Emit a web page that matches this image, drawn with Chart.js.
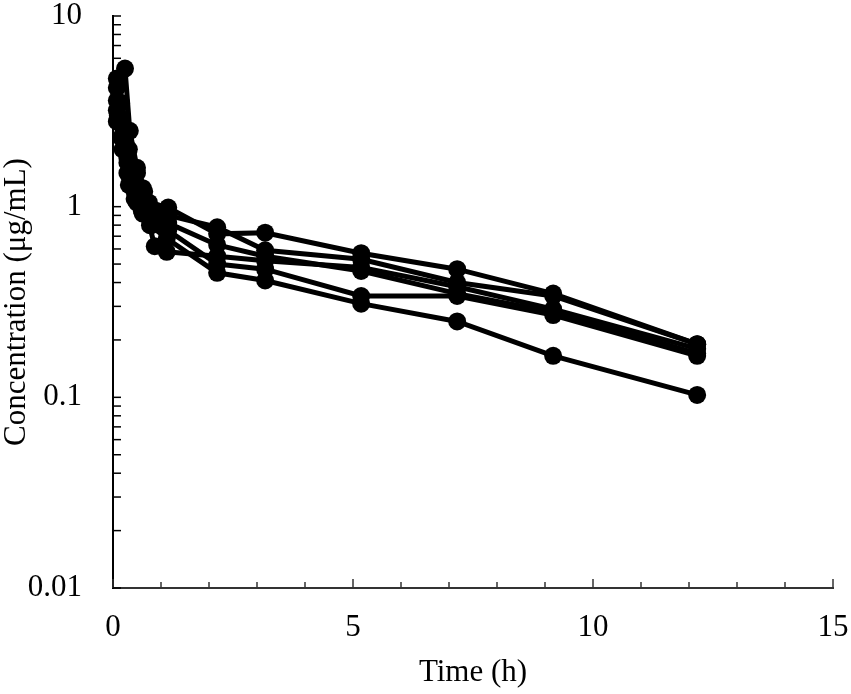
<!DOCTYPE html>
<html>
<head>
<meta charset="utf-8">
<script src="https://cdn.jsdelivr.net/npm/chart.js@4/dist/chart.umd.min.js"></script>
<style>
  html, body { margin: 0; padding: 0; background: #fff; }
  #wrap { width: 851px; height: 694px; }
</style>
</head>
<body>
<div id="wrap"><canvas id="c" width="851" height="694"></canvas></div>
<script>
// Time (h) and concentration (µg/mL) for each subject
const time1 = [0.08, 0.25, 0.35, 0.5, 0.62, 0.75, 1.15, 2.17, 3.17, 5.17, 7.17, 9.17, 12.17];
const conc1 = [4.7, 5.3, 2.5, 1.6, 1.25, 1.05, 0.99, 0.72, 0.73, 0.57, 0.47, 0.35, 0.19];
const time2 = [0.08, 0.17, 0.33, 0.5, 0.65, 0.9, 1.15, 2.17, 3.17, 5.17, 7.17, 9.17, 12.17];
const conc2 = [4.2, 3.5, 2.0, 1.5, 1.2, 0.95, 0.90, 0.78, 0.59, 0.53, 0.40, 0.34, 0.19];
const time3 = [0.08, 0.17, 0.3, 0.5, 0.62, 0.87, 1.12, 2.17, 3.17, 5.17, 7.17, 9.17, 12.17];
const conc3 = [3.6, 2.9, 1.8, 1.3, 1.1, 0.62, 0.58, 0.55, 0.52, 0.48, 0.38, 0.29, 0.18];
const time4 = [0.08, 0.17, 0.3, 0.45, 0.6, 0.8, 1.15, 2.17, 3.17, 5.17, 7.17, 9.17, 12.17];
const conc4 = [3.2, 2.7, 1.7, 1.2, 1.0, 0.88, 0.82, 0.63, 0.55, 0.46, 0.35, 0.28, 0.17];
const time5 = [0.08, 0.17, 0.3, 0.45, 0.6, 0.8, 1.15, 2.17, 3.17, 5.17, 7.17, 9.17, 12.17];
const conc5 = [2.8, 2.3, 1.5, 1.1, 0.95, 0.8, 0.75, 0.50, 0.47, 0.34, 0.34, 0.27, 0.165];
const time6 = [0.1, 0.2, 0.33, 0.5, 0.62, 0.77, 1.12, 2.17, 3.17, 5.17, 7.17, 9.17, 12.17];
const conc6 = [3.0, 2.0, 1.3, 1.05, 0.92, 0.80, 0.68, 0.45, 0.41, 0.31, 0.25, 0.165, 0.103];

const xTickLabels = [0, 5, 10, 15];
const yTickLabels = [0.01, 0.1, 1, 10];
const xTitle = 'Time (h)';
const yTitle = 'Concentration (μg/mL)';

const subjects = [[time1, conc1], [time2, conc2], [time3, conc3], [time4, conc4], [time5, conc5], [time6, conc6]];

const datasets = subjects.map(([t, c], i) => ({
  label: 'Subject ' + (i + 1),
  data: t.map((x, k) => ({ x: x, y: c[k] })),
  borderColor: '#000',
  backgroundColor: '#000',
  borderWidth: 5,
  pointRadius: 9,
  pointHoverRadius: 9,
  pointBorderWidth: 0,
  pointBackgroundColor: '#000',
  tension: 0,
  clip: false
}));

const FONT = 'Liberation Serif';
const FSIZE = 31;

const innerTicks = {
  id: 'innerTicks',
  afterDraw(chart) {
    const ctx = chart.ctx;
    const xs = chart.scales.x, ys = chart.scales.y;
    ctx.save();
    ctx.strokeStyle = '#333';
    ctx.lineWidth = 1.5;
    for (let v = 0; v <= 15; v++) {
      const px = xs.getPixelForValue(v);
      const len = (v % 5 === 0) ? 9 : 6;
      ctx.beginPath();
      ctx.moveTo(px, ys.bottom);
      ctx.lineTo(px, ys.bottom - len);
      ctx.stroke();
    }
    ctx.strokeStyle = '#000';
    ctx.lineWidth = 1.5;
    for (let d = -2; d <= 0; d++) {
      for (let m = 1; m <= 9; m++) {
        const v = m * Math.pow(10, d);
        const py = ys.getPixelForValue(v);
        ctx.beginPath();
        ctx.moveTo(xs.left, py);
        ctx.lineTo(xs.left + 8, py);
        ctx.stroke();
      }
    }
    const pTop = ys.getPixelForValue(10);
    ctx.beginPath();
    ctx.moveTo(xs.left, pTop);
    ctx.lineTo(xs.left + 8, pTop);
    ctx.stroke();
    ctx.restore();
  }
};

new Chart(document.getElementById('c'), {
  type: 'line',
  data: { datasets },
  options: {
    responsive: false,
    animation: false,
    events: [],
    layout: { padding: { top: 16, right: 18, left: 0, bottom: 0 } },
    plugins: { legend: { display: false }, tooltip: { enabled: false } },
    scales: {
      x: {
        type: 'linear',
        min: 0, max: 15,
        afterBuildTicks: (s) => { s.ticks = xTickLabels.map(v => ({ value: v })); },
        afterFit: (s) => { s.height = 106; s.paddingLeft = 0; s.paddingRight = 0; },
        grid: { display: false, drawTicks: false },
        border: { display: true, color: '#333', width: 2 },
        ticks: { color: '#000', font: { family: FONT, size: FSIZE }, padding: 21, maxRotation: 0, callback: (v) => String(v) },
        title: { display: true, text: xTitle, color: '#000', font: { family: FONT, size: FSIZE }, padding: { top: 0, bottom: 3 } }
      },
      y: {
        type: 'logarithmic',
        min: 0.01, max: 10,
        afterBuildTicks: (s) => { s.ticks = yTickLabels.map(v => ({ value: v })); },
        afterFit: (s) => { s.width = 113; s.paddingTop = 0; s.paddingBottom = 0; },
        grid: { display: false, drawTicks: false },
        border: { display: true, color: '#000', width: 2 },
        ticks: { color: '#000', font: { family: FONT, size: FSIZE }, padding: 31, callback: (v) => String(v) },
        title: { display: true, text: yTitle, color: '#000', font: { family: FONT, size: FSIZE, lineHeight: 1.1 }, padding: { top: 0, bottom: 0 } }
      }
    }
  },
  plugins: [innerTicks]
});
</script>
</body>
</html>
